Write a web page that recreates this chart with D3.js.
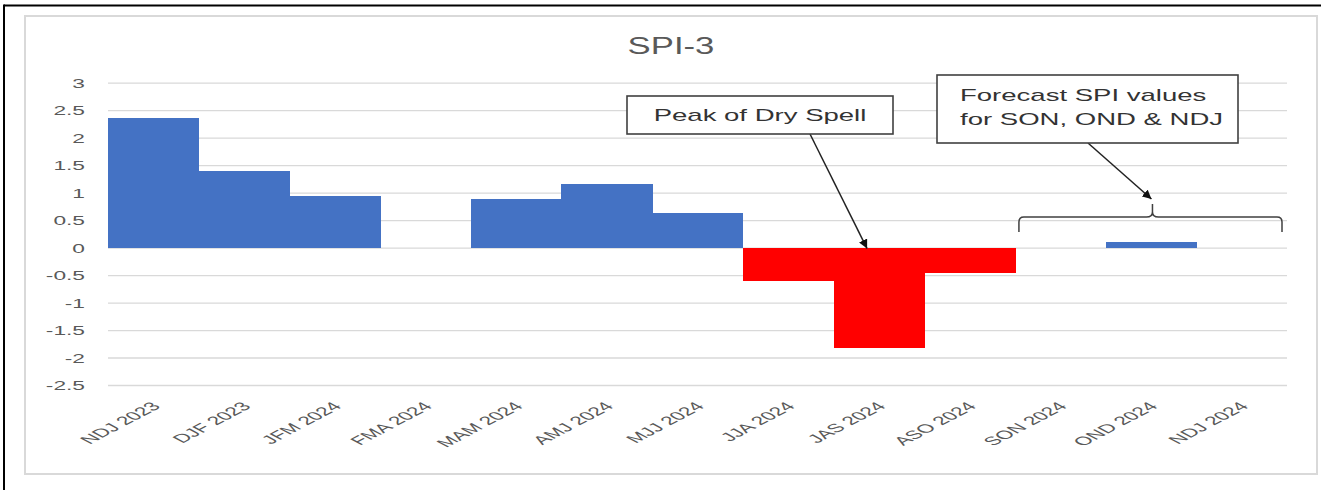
<!DOCTYPE html>
<html><head><meta charset="utf-8">
<script src="https://cdn.jsdelivr.net/npm/d3@7"></script>
<style>
html,body{margin:0;padding:0;background:#fff;}
svg{display:block;}
text{font-family:"Liberation Sans",Arial,sans-serif;}
</style></head>
<body>
<svg id="chart" width="1321" height="490"></svg>
<script>
const categories = ["NDJ 2023","DJF 2023","JFM 2024","FMA 2024","MAM 2024","AMJ 2024","MJJ 2024","JJA 2024","JAS 2024","ASO 2024","SON 2024","OND 2024","NDJ 2024"];
const spiValues = [2.36, 1.40, 0.94, null, 0.89, 1.16, 0.63, -0.60, -1.83, -0.46, null, 0.11, null];
const yTicks = [3, 2.5, 2, 1.5, 1, 0.5, 0, -0.5, -1, -1.5, -2, -2.5];
const yTickLabels = ["3","2.5","2","1.5","1","0.5","0","-0.5","-1","-1.5","-2","-2.5"];
const titleText = "SPI-3";
const peakLabel = ["Peak of Dry Spell"];
const peakCategory = "JAS 2024";
const forecastLabel = ["Forecast SPI values","for SON, OND & NDJ"];
const forecastCategories = ["SON 2024","OND 2024","NDJ 2024"];

const svg = d3.select("#chart");
const pLeft = 108, pRight = 1287, pTop = 82.7, pBottom = 385;
const x = d3.scaleBand().domain(categories).range([pLeft, pRight]).padding(0);
const y = d3.scaleLinear().domain([-2.5, 3]).range([pBottom, pTop]);

// frames
svg.append("rect").attr("x",25).attr("y",16).attr("width",1292).attr("height",458)
  .attr("fill","#fff").attr("stroke","#d9d9d9").attr("stroke-width",2);
svg.append("line").attr("x1",4).attr("x2",1321).attr("y1",5.5).attr("y2",5.5).attr("stroke","#000").attr("stroke-width",2);
svg.append("line").attr("x1",4).attr("x2",4).attr("y1",4.5).attr("y2",490).attr("stroke","#000").attr("stroke-width",2);

// title
svg.append("text").attr("transform","translate(671,54) scale(1.51,1)")
  .attr("text-anchor","middle").attr("font-size",23).attr("fill","#595959").text(titleText);

// y axis with gridlines
const yAxis = d3.axisLeft(y).tickValues(yTicks).tickFormat((d,i)=>yTickLabels[i]).tickSize(-(pRight-pLeft)).tickPadding(0);
const gy = svg.append("g").attr("transform",`translate(${pLeft},0)`).call(yAxis);
gy.select(".domain").remove();
gy.selectAll(".tick line").attr("stroke","#d9d9d9").attr("stroke-width",1.3);
gy.selectAll(".tick text").attr("x",0).attr("dy",null).attr("y",0)
  .attr("transform","translate(-23,4.6) scale(1.75,1)")
  .attr("font-size",13).attr("fill","#595959").attr("font-family","Liberation Sans, Arial, sans-serif");

// bars
svg.append("g").attr("shape-rendering","crispEdges").selectAll("rect").data(categories.map((c,i)=>({c, v: spiValues[i]})).filter(d=>d.v!==null))
  .join("rect")
  .attr("x",d=>x(d.c)).attr("width",x.bandwidth()+0.6)
  .attr("y",d=>y(Math.max(0,d.v))).attr("height",d=>Math.abs(y(d.v)-y(0)))
  .attr("fill",d=>d.v<0?"#ff0000":"#4472c4");

// x axis labels
const xAxis = d3.axisBottom(x).tickSize(0).tickPadding(0);
const gx = svg.append("g").attr("transform",`translate(0,${pBottom})`).call(xAxis);
gx.select(".domain").remove();
gx.selectAll(".tick text").attr("y",0).attr("dy",null).attr("x",0)
  .attr("text-anchor","end")
  .attr("transform","translate(8,22) scale(1.9,1) rotate(-45)")
  .attr("font-size",12).attr("fill","#595959").attr("font-family","Liberation Sans, Arial, sans-serif");

// arrow marker
const defs = svg.append("defs");
defs.append("marker").attr("id","arrow").attr("viewBox","0 0 10 10").attr("refX",10).attr("refY",5)
  .attr("markerWidth",9).attr("markerHeight",9).attr("markerUnits","userSpaceOnUse").attr("orient","auto")
  .append("path").attr("d","M0,0 L10,5 L0,10 z").attr("fill","#111");

// Peak annotation
const peakX = x(peakCategory) + x.bandwidth()*0.37;
svg.append("line").attr("x1",810).attr("y1",134).attr("x2",peakX).attr("y2",y(0)+1)
  .attr("stroke","#222").attr("stroke-width",1.5).attr("marker-end","url(#arrow)");
svg.append("rect").attr("x",627).attr("y",96).attr("width",266).attr("height",38)
  .attr("fill","#fff").attr("stroke","#404040").attr("stroke-width",1.6);
svg.append("text").attr("transform","translate(760,120.5) scale(1.62,1)").attr("text-anchor","middle")
  .attr("font-size",17).attr("fill","#333").text(peakLabel[0]);

// Forecast brace
const bx0 = x(forecastCategories[0]) + 4, bx1 = x(forecastCategories[2]) + x.bandwidth() - 5;
const bm = (bx0+bx1)/2 + 2;
const byTop = 217, byEnd = 232, bTip = 204;
svg.append("path")
  .attr("d",`M${bx0},${byEnd} L${bx0},${byTop+5} Q${bx0},${byTop} ${bx0+5},${byTop} L${bm-6},${byTop} Q${bm},${byTop} ${bm},${byTop-5} L${bm},${bTip} M${bm},${byTop-5} Q${bm},${byTop} ${bm+6},${byTop} L${bx1-5},${byTop} Q${bx1},${byTop} ${bx1},${byTop+5} L${bx1},${byEnd}`)
  .attr("fill","none").attr("stroke","#404040").attr("stroke-width",1.5);
svg.append("line").attr("x1",1088).attr("y1",143).attr("x2",bm-1).attr("y2",199)
  .attr("stroke","#222").attr("stroke-width",1.5).attr("marker-end","url(#arrow)");
svg.append("rect").attr("x",937).attr("y",75).attr("width",301).attr("height",68)
  .attr("fill","#fff").attr("stroke","#404040").attr("stroke-width",1.6);
svg.append("g").selectAll("text").data(forecastLabel).join("text")
  .attr("transform",(d,i)=>`translate(960,${101+i*23.5}) scale(1.62,1)`)
  .attr("font-size",17).attr("fill","#333").text(d=>d);
</script>
</body></html>
